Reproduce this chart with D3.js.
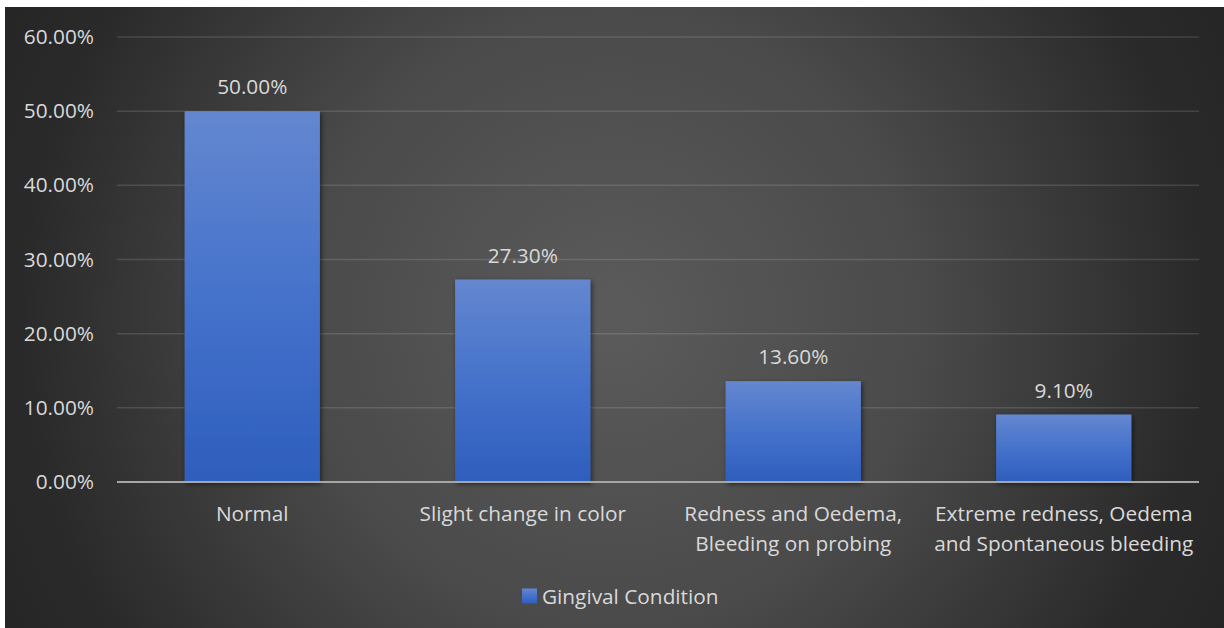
<!DOCTYPE html>
<html>
<head>
<meta charset="utf-8">
<script src="https://cdn.jsdelivr.net/npm/d3@7"></script>
<style>
  html, body { margin: 0; padding: 0; background: #ffffff; }
  svg { display: block; }
  text { font-family: "Open Sans", "Lato", sans-serif; fill: #d9d9d9; }
</style>
</head>
<body>
<svg id="chart" width="1224" height="628"></svg>
<script>
// Gingival condition distribution (share of subjects)
const categories = [
  ["Normal"],
  ["Slight change in color"],
  ["Redness and Oedema,", "Bleeding on probing"],
  ["Extreme redness, Oedema", "and Spontaneous bleeding"]
];
const values = [0.50, 0.273, 0.136, 0.091];
const valueLabels = ["50.00%", "27.30%", "13.60%", "9.10%"];
const yTicks = [0, 0.1, 0.2, 0.3, 0.4, 0.5, 0.6];
const seriesName = "Gingival Condition";

const W = 1224, H = 628;
const FONT = "20.8px";
const svg = d3.select("#chart");
const defs = svg.append("defs");

// dark radial backdrop
const bg = defs.append("radialGradient")
  .attr("id", "bgGrad")
  .attr("gradientUnits", "userSpaceOnUse")
  .attr("cx", 612).attr("cy", 318).attr("r", 690);
[[0, "#5b5b5b"], [0.45, "#4a4a4a"], [0.85, "#2a2a2a"], [1, "#252525"]]
  .forEach(([o, c]) => bg.append("stop").attr("offset", o).attr("stop-color", c));

// bar fill: lighter blue at the top fading to deeper blue
const barGrad = defs.append("linearGradient")
  .attr("id", "barGrad").attr("x1", 0).attr("y1", 0).attr("x2", 0).attr("y2", 1);
barGrad.append("stop").attr("offset", 0).attr("stop-color", "#6487d0");
barGrad.append("stop").attr("offset", 0.5).attr("stop-color", "#4572cb");
barGrad.append("stop").attr("offset", 1).attr("stop-color", "#2e5ebd");

const shadow = defs.append("filter").attr("id", "barShadow")
  .attr("x", "-10%").attr("y", "-10%").attr("width", "130%").attr("height", "130%");
shadow.append("feDropShadow")
  .attr("dx", 1.5).attr("dy", 2).attr("stdDeviation", 2.5)
  .attr("flood-color", "#000").attr("flood-opacity", 0.55);

svg.append("rect")
  .attr("x", 5).attr("y", 7).attr("width", W - 5).attr("height", H - 7)
  .attr("fill", "url(#bgGrad)");

const plot = { left: 117, right: 1199, top: 37, bottom: 482 };

const x = d3.scaleBand()
  .domain(d3.range(categories.length))
  .range([plot.left, plot.right])
  .paddingInner(0.5).paddingOuter(0.25);

const y = d3.scaleLinear().domain([0, 0.6]).range([plot.bottom, plot.top]);

// horizontal gridlines
svg.append("g").selectAll("line")
  .data(yTicks.filter(t => t > 0))
  .join("line")
  .attr("x1", plot.left).attr("x2", plot.right)
  .attr("y1", d => y(d)).attr("y2", d => y(d))
  .attr("stroke", "#ffffff").attr("stroke-opacity", 0.13).attr("stroke-width", 1.5);

// y axis labels
const yAxis = d3.axisLeft(y)
  .tickValues(yTicks)
  .tickFormat(d3.format(".2%"))
  .tickSize(0).tickPadding(0);
const gy = svg.append("g")
  .attr("transform", `translate(${plot.left - 23},0)`)
  .call(yAxis);
gy.select(".domain").remove();
gy.selectAll("text")
  .attr("fill", "#d9d9d9")
  .style("font-family", "'Open Sans', sans-serif")
  .style("font-size", FONT);

// bars
svg.append("g").selectAll("rect")
  .data(values)
  .join("rect")
  .attr("x", (d, i) => x(i))
  .attr("width", x.bandwidth())
  .attr("y", d => y(d))
  .attr("height", d => y(0) - y(d))
  .attr("fill", "url(#barGrad)")
  .attr("filter", "url(#barShadow)");

// baseline
svg.append("line")
  .attr("x1", plot.left).attr("x2", plot.right)
  .attr("y1", y(0)).attr("y2", y(0))
  .attr("stroke", "#a6a6a6").attr("stroke-width", 2);

// value labels above bars
svg.append("g").selectAll("text")
  .data(values)
  .join("text")
  .attr("x", (d, i) => x(i) + x.bandwidth() / 2)
  .attr("y", d => y(d) - 25)
  .attr("text-anchor", "middle")
  .attr("dominant-baseline", "central")
  .style("font-size", FONT)
  .text((d, i) => valueLabels[i]);

// category labels (may wrap to two lines)
const cat = svg.append("g").selectAll("text")
  .data(categories)
  .join("text")
  .attr("text-anchor", "middle")
  .style("font-size", FONT);
cat.each(function (lines, i) {
  const t = d3.select(this);
  lines.forEach((ln, k) => {
    t.append("tspan")
      .attr("x", x(i) + x.bandwidth() / 2)
      .attr("y", 513 + k * 30)
      .attr("dominant-baseline", "central")
      .text(ln);
  });
});

// legend
const legend = svg.append("g").attr("transform", "translate(522,596)");
legend.append("rect")
  .attr("x", 0).attr("y", -7.5).attr("width", 15).attr("height", 15)
  .attr("fill", "url(#barGrad)");
legend.append("text")
  .attr("x", 20).attr("y", 0)
  .attr("dominant-baseline", "central")
  .style("font-size", FONT)
  .text(seriesName);
</script>
</body>
</html>
